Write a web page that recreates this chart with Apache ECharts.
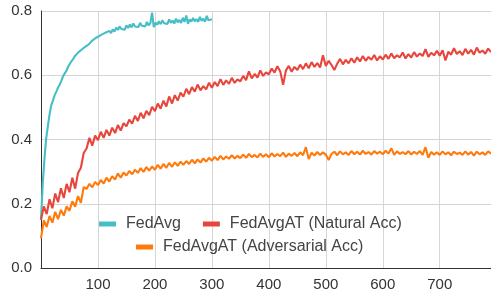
<!DOCTYPE html>
<html>
<head>
<meta charset="utf-8">
<script src="https://cdn.jsdelivr.net/npm/echarts@6/dist/echarts.min.js"></script>
<style>
  html, body { margin: 0; padding: 0; background: #fff; }
  #chart { width: 491px; height: 296px; }
</style>
</head>
<body>
<div id="chart"></div>
<script>
// epochs step for each curve
const fedAvgStep = 3;
const atStep = 5;

// FedAvg accuracy, epochs 0..300
const fedAvg = [
  0.150, 0.262, 0.338, 0.402, 0.441, 0.478, 0.507, 0.521, 0.538, 0.549,
  0.562, 0.571, 0.584, 0.598, 0.592, 0.615, 0.628, 0.622, 0.645, 0.652,
  0.661, 0.656, 0.672, 0.668, 0.681, 0.676, 0.689, 0.684, 0.696, 0.692,
  0.708, 0.703, 0.716, 0.711, 0.722, 0.717, 0.728, 0.722, 0.733, 0.728,
  0.738, 0.731, 0.743, 0.736, 0.748, 0.741, 0.752, 0.744, 0.749, 0.742,
  0.755, 0.747, 0.758, 0.749, 0.761, 0.752, 0.757, 0.750, 0.763, 0.754,
  0.760, 0.752, 0.766, 0.755, 0.762, 0.795, 0.750, 0.764, 0.757, 0.768,
  0.759, 0.771, 0.762, 0.768, 0.760, 0.774, 0.763, 0.770, 0.761, 0.776,
  0.765, 0.772, 0.763, 0.779, 0.766, 0.786, 0.760, 0.774, 0.767, 0.778,
  0.768, 0.775, 0.766, 0.782, 0.769, 0.776, 0.767, 0.785, 0.771, 0.777,
  0.774
];

// FedAvgAT natural accuracy, epochs 0..790
const natural = [
  0.150, 0.192, 0.168, 0.214, 0.186, 0.232, 0.205, 0.248, 0.218, 0.262,
  0.236, 0.281, 0.247, 0.296, 0.312, 0.358, 0.372, 0.405, 0.381, 0.412,
  0.398, 0.424, 0.405, 0.430, 0.412, 0.437, 0.420, 0.445, 0.428, 0.451,
  0.441, 0.462, 0.449, 0.474, 0.458, 0.483, 0.466, 0.489, 0.476, 0.502,
  0.488, 0.512, 0.496, 0.521, 0.503, 0.534, 0.512, 0.538, 0.521, 0.546,
  0.533, 0.558, 0.541, 0.563, 0.549, 0.571, 0.553, 0.566, 0.556, 0.577,
  0.561, 0.579, 0.566, 0.588, 0.570, 0.584, 0.573, 0.592, 0.576, 0.587,
  0.581, 0.598, 0.585, 0.612, 0.590, 0.604, 0.593, 0.615, 0.598, 0.609,
  0.603, 0.621, 0.608, 0.628, 0.612, 0.570, 0.615, 0.629, 0.611, 0.626,
  0.616, 0.633, 0.619, 0.637, 0.622, 0.641, 0.626, 0.638, 0.624, 0.662,
  0.629, 0.645, 0.632, 0.616, 0.636, 0.651, 0.634, 0.648, 0.637, 0.653,
  0.639, 0.656, 0.643, 0.660, 0.645, 0.657, 0.648, 0.663, 0.646, 0.659,
  0.649, 0.664, 0.651, 0.668, 0.653, 0.662, 0.656, 0.671, 0.652, 0.666,
  0.655, 0.672, 0.658, 0.668, 0.660, 0.681, 0.657, 0.670, 0.662, 0.676,
  0.661, 0.678, 0.646, 0.673, 0.664, 0.684, 0.666, 0.675, 0.663, 0.682,
  0.667, 0.679, 0.664, 0.686, 0.670, 0.677, 0.667, 0.683, 0.672
];

// FedAvgAT adversarial accuracy, epochs 0..790
const adversarial = [
  0.092, 0.148, 0.128, 0.162, 0.141, 0.175, 0.152, 0.181, 0.163, 0.192,
  0.178, 0.208, 0.191, 0.224, 0.203, 0.252, 0.246, 0.262, 0.251, 0.268,
  0.258, 0.274, 0.263, 0.281, 0.269, 0.286, 0.275, 0.294, 0.281, 0.297,
  0.288, 0.302, 0.292, 0.306, 0.296, 0.311, 0.299, 0.314, 0.303, 0.316,
  0.306, 0.321, 0.309, 0.324, 0.312, 0.327, 0.315, 0.329, 0.318, 0.331,
  0.321, 0.333, 0.324, 0.337, 0.326, 0.338, 0.328, 0.341, 0.331, 0.343,
  0.334, 0.346, 0.336, 0.349, 0.338, 0.347, 0.340, 0.351, 0.341, 0.349,
  0.342, 0.353, 0.343, 0.355, 0.345, 0.352, 0.344, 0.356, 0.346, 0.354,
  0.345, 0.357, 0.347, 0.355, 0.348, 0.359, 0.346, 0.356, 0.349, 0.358,
  0.348, 0.360, 0.351, 0.376, 0.339, 0.359, 0.350, 0.361, 0.352, 0.360,
  0.353, 0.336, 0.355, 0.362, 0.351, 0.363, 0.354, 0.360, 0.352, 0.364,
  0.354, 0.362, 0.353, 0.365, 0.355, 0.361, 0.353, 0.364, 0.356, 0.362,
  0.354, 0.365, 0.356, 0.373, 0.352, 0.363, 0.355, 0.361, 0.354, 0.364,
  0.353, 0.362, 0.355, 0.364, 0.352, 0.376, 0.343, 0.361, 0.353, 0.360,
  0.352, 0.363, 0.354, 0.360, 0.351, 0.362, 0.355, 0.359, 0.352, 0.363,
  0.353, 0.361, 0.350, 0.362, 0.354, 0.360, 0.352, 0.363, 0.356
];

const names = ['FedAvg', 'FedAvgAT (Natural Acc)', 'FedAvgAT (Adversarial Acc)'];
const colors = ['#47bec6', '#e8463c', '#ff7a0a'];

function toPoints(values, step) {
  return values.map((v, i) => [i * step, v]);
}

const chart = echarts.init(document.getElementById('chart'), null, { renderer: 'canvas' });

const font = 'Liberation Sans, Arial, sans-serif';

const option = {
  animation: false,
  backgroundColor: '#fff',
  grid: { left: 41, right: 0, top: 11, bottom: 28 },
  legend: [
    {
      data: [names[0], names[1]],
      left: 94, top: 211,
      icon: 'rect', itemWidth: 17, itemHeight: 5, itemGap: 22,
      textStyle: { fontFamily: font, fontSize: 16, color: '#444', padding: [0, 0, 0, 5] }
    },
    {
      data: [names[2]],
      left: 131, top: 234,
      icon: 'rect', itemWidth: 17, itemHeight: 5,
      textStyle: { fontFamily: font, fontSize: 16, color: '#444', padding: [0, 0, 0, 5] }
    }
  ],
  xAxis: {
    type: 'value',
    min: 0, max: 790, interval: 100,
    axisLine: { show: true, lineStyle: { color: '#333', width: 1 } },
    axisTick: { show: false },
    axisLabel: {
      showMinLabel: false, showMaxLabel: false,
      fontFamily: font, fontSize: 15, color: '#333', margin: 9
    },
    splitLine: { show: true, showMinLine: false, showMaxLine: false, lineStyle: { color: '#d6d6d6', width: 1 } }
  },
  yAxis: {
    type: 'value',
    min: 0, max: 0.8, interval: 0.2,
    axisLine: { show: true, lineStyle: { color: '#333', width: 1 } },
    axisTick: { show: false },
    axisLabel: {
      fontFamily: font, fontSize: 15, color: '#333', margin: 9,
      formatter: v => v.toFixed(1)
    },
    splitLine: { show: true, lineStyle: { color: '#d6d6d6', width: 1 } }
  },
  series: [
    { name: names[0], type: 'line', data: toPoints(fedAvg, fedAvgStep) },
    { name: names[1], type: 'line', data: toPoints(natural, atStep) },
    { name: names[2], type: 'line', data: toPoints(adversarial, atStep) }
  ].map((s, i) => Object.assign(s, {
    color: colors[i],
    showSymbol: false,
    symbol: 'none',
    lineStyle: { width: 2.1, color: colors[i] }
  }))
};

chart.setOption(option);
</script>
</body>
</html>
